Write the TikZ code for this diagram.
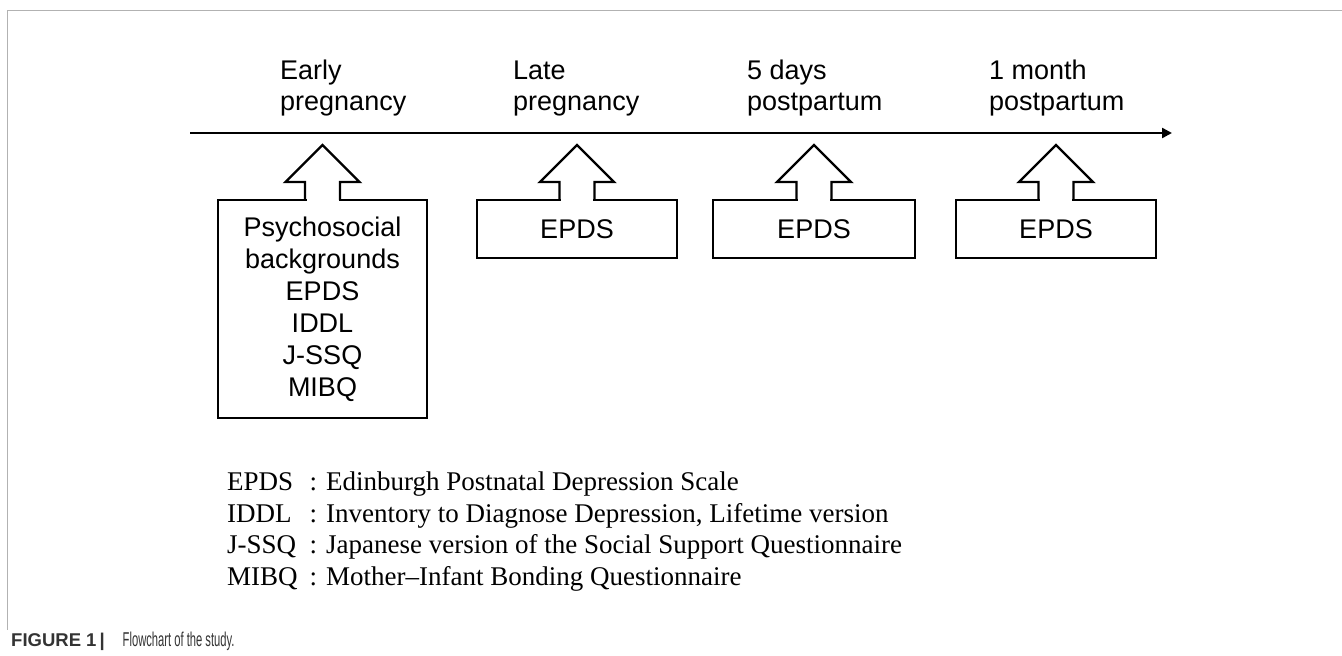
\documentclass[tikz,border=0pt]{standalone}
\usepackage{fontspec}
\setmainfont{Liberation Sans}
\newfontfamily\legendfont{Liberation Serif}
\newfontfamily\capfont[FakeStretch=0.56]{Liberation Sans}
\usetikzlibrary{arrows.meta}

\begin{document}
\begin{tikzpicture}[x=1pt, y=1pt,
  box/.style={draw, line width=2.4pt, inner sep=0pt, outer sep=0pt, align=center,
    font=\fontsize{27}{32}\selectfont},
  when/.style={anchor=north west, inner sep=0pt, align=left,
    font=\fontsize{27}{31}\selectfont},
  thick line/.style={line width=2.4pt}]

\useasboundingbox (0,0) rectangle (1342,656);
\draw[gray!60, line width=1pt] (1342,645) -- (7,645) -- (7,26);

\coordinate (t0) at (190,523);
\coordinate (t1) at (1172,523);
\draw[thick line, -{Triangle[length=10pt,width=10pt]}] (t0) -- (t1);

\node[when] (w1) at (280,597) {\rule{0pt}{20pt}Early\\pregnancy};
\node[when] (w2) at (513,597) {\rule{0pt}{20pt}Late\\pregnancy};
\node[when] (w3) at (747,597) {\rule{0pt}{20pt}5 days\\postpartum};
\node[when] (w4) at (989,597) {\rule{0pt}{20pt}1 month\\postpartum};

\node[box, anchor=north, minimum width=209pt, minimum height=218pt] (b1) at (322.5,456)
  {Psychosocial\\backgrounds\\EPDS\\IDDL\\J-SSQ\\MIBQ};
\node[box, anchor=north, minimum width=200pt, minimum height=58pt] (b2) at (577,456) {EPDS};
\node[box, anchor=north, minimum width=202pt, minimum height=58pt] (b3) at (814,456) {EPDS};
\node[box, anchor=north, minimum width=200pt, minimum height=58pt] (b4) at (1056,456) {EPDS};

\foreach \b in {b1,b2,b3,b4} {
  \fill[white] ([xshift=-16pt,yshift=-1.3pt]\b.north) rectangle ([xshift=16pt,yshift=3pt]\b.north);
  \draw[thick line, line join=miter] ([xshift=-17.5pt]\b.north) -- ++(0,18) -- ++(-19.5,0)
    -- ++(37,37) -- ++(37,-37) -- ++(-19.5,0) -- ++(0,-18);
}

\node[anchor=north west, inner sep=0pt, font=\legendfont\fontsize{27}{31.7}\selectfont] (legend) at (227,188)
  {\begin{tabular}{@{}l@{\hspace{12pt}}l@{}}
    EPDS & : Edinburgh Postnatal Depression Scale\\
    IDDL & : Inventory to Diagnose Depression, Lifetime version\\
    J-SSQ & : Japanese version of the Social Support Questionnaire\\
    MIBQ & : Mother–Infant Bonding Questionnaire
  \end{tabular}};

\node[anchor=base west, inner sep=0pt, text=black!80, font=\fontsize{18.5}{20}\selectfont] (caption) at (11,9)
  {\textbf{FIGURE 1}\hspace{3pt}\textbf{|}\hspace{18pt}{\capfont\fontsize{20}{22}\selectfont Flowchart of the study.}};
\end{tikzpicture}
\end{document}
